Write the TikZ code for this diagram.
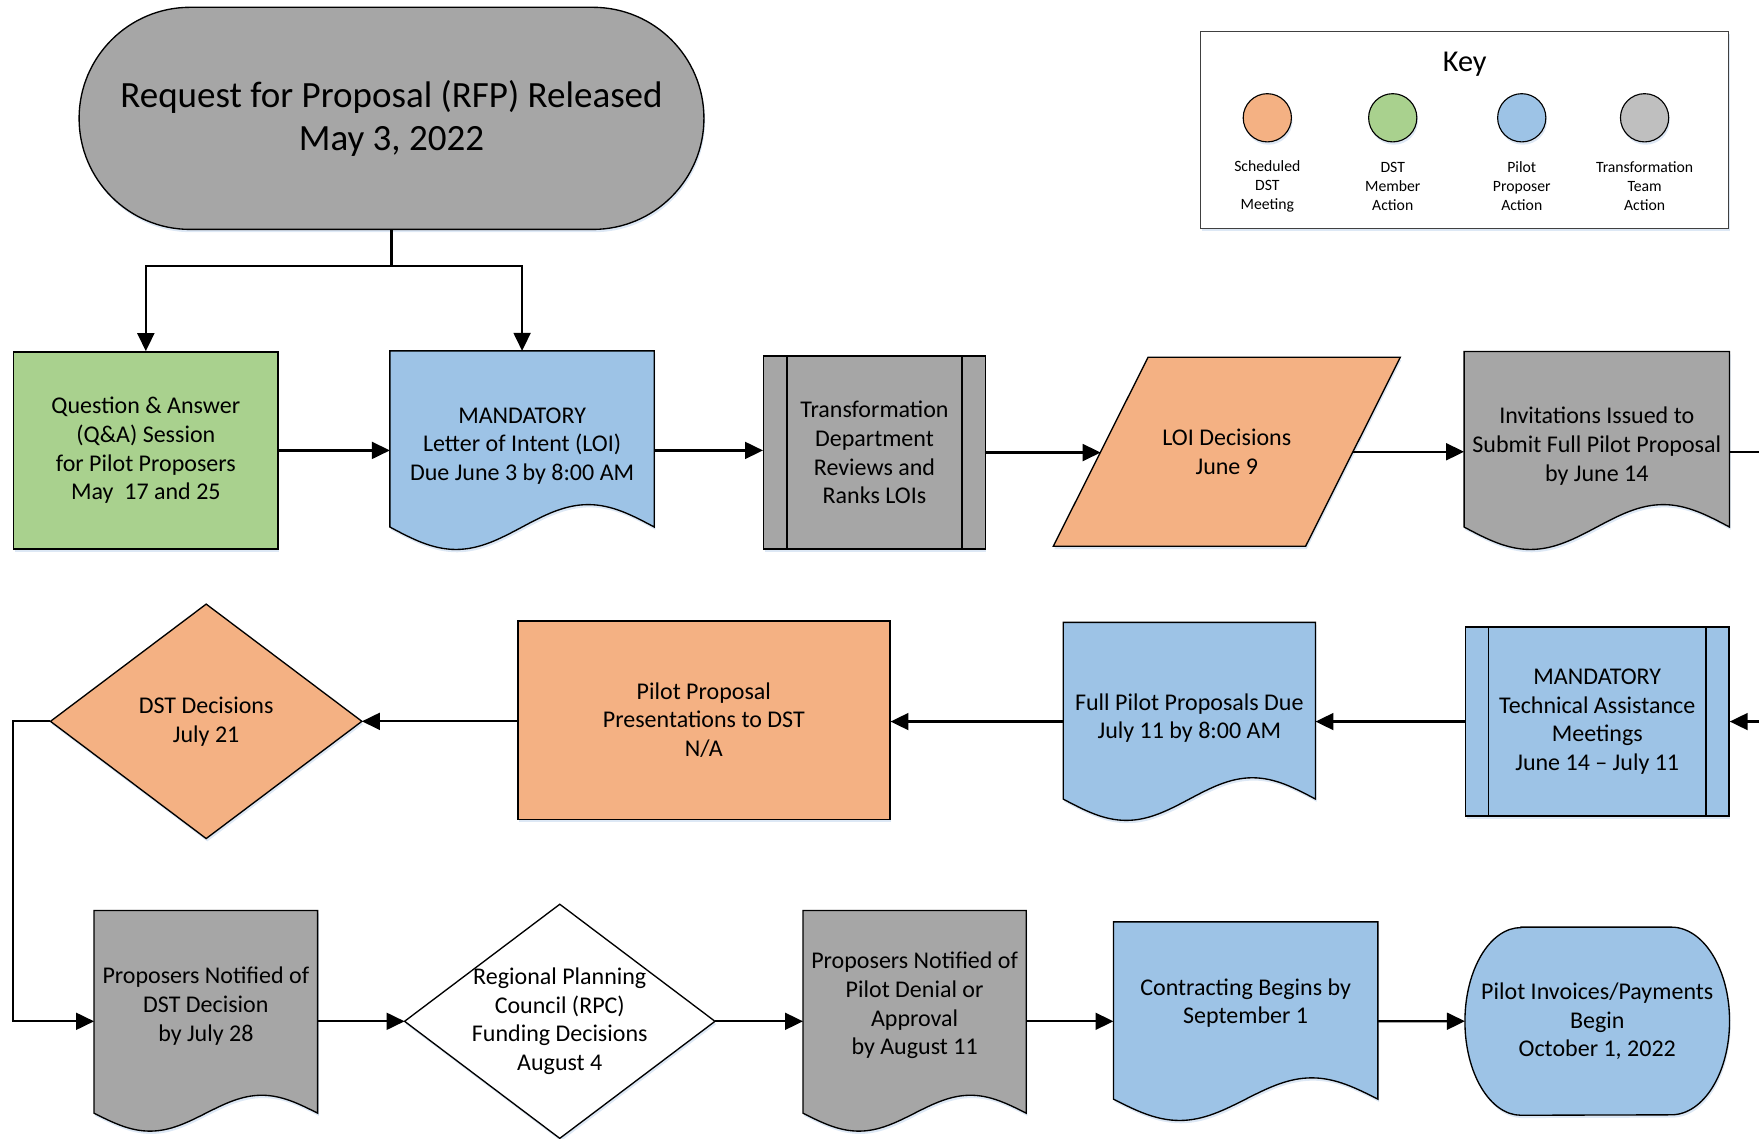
\documentclass[tikz,border=0pt]{standalone}
\usepackage{fontspec}
\setmainfont{Carlito}
\usetikzlibrary{positioning,calc,arrows.meta,backgrounds,shadows}

\definecolor{dstorange}{HTML}{F4B183}
\definecolor{dstgreen}{HTML}{A9D18E}
\definecolor{pilotblue}{HTML}{9DC3E6}
\definecolor{teamgray}{HTML}{A6A6A6}
\definecolor{keygray}{HTML}{BFBFBF}
\definecolor{glowblue}{HTML}{D5E2F2}

\begin{document}
\begin{tikzpicture}[
    x=1pt, y=-1pt,
    every node/.style={align=center, inner sep=0pt, font=\fontsize{21.4}{25.6}\selectfont},
    outline/.style={draw=black, line width=1.2pt},
    glow/.style={drop shadow={shadow xshift=1pt, shadow yshift=-2.5pt, fill=glowblue, opacity=.8}},
    blockbox/.style={rectangle, outline, glow},
    blank/.style={rectangle},
    flow/.style={draw, line width=2pt, -{Triangle[length=16pt, width=15pt]}},
    link/.style={draw, line width=2pt},
    keydot/.style={circle, outline, line width=1pt, glow, minimum size=43pt},
    keytext/.style={font=\fontsize{14}{16.9}\selectfont}
    ]
    \useasboundingbox (0,0) rectangle (1568,1015);

    % start and key
    \node[blockbox, fill=teamgray, rounded corners=99pt, minimum width=557pt, minimum height=198pt,
          font=\fontsize{33}{39}\selectfont] (rfp) at (349,105.5) {Request for Proposal (RFP) Released\\May 3, 2022};
    \node[rectangle, draw=black!75, line width=0.8pt, fill=white, glow, minimum width=470.5pt, minimum height=176pt] (key) at (1305.5,115.7) {};
    \node[font=\fontsize{27}{32}\selectfont] (keytitle) at (1305.7,57.5) {Key};
    \foreach \i/\x/\c/\t in {1/1129.7/dstorange/{Scheduled\\DST\\Meeting},
                             2/1241.5/dstgreen/{DST\\Member\\Action},
                             3/1356.5/pilotblue/{Pilot\\Proposer\\Action},
                             4/1466/keygray/{Transformation\\Team\\Action}} {
        \node[keydot, fill=\c] (dot\i) at (\x,105) {};
        \node[keytext] (lab\i) at (\x,166) {\t};
    }

    % row 1
    \node[blockbox, fill=dstgreen, minimum width=235.5pt, minimum height=175.7pt] (qa) at (130,401.5)
        {Question \& Answer\\(Q\&A) Session\\for Pilot Proposers\\May\ \ 17 and 25};
    \node[blank, minimum width=235.3pt, minimum height=169pt] (loi) at (465.4,397.5)
        {MANDATORY\\Letter of Intent (LOI)\\Due June 3 by 8:00 AM};
    \node[blockbox, fill=teamgray, minimum width=197.5pt, minimum height=172pt] (review) at (779.5,403.4)
        {Transformation\\Department\\Reviews and\\Ranks LOIs};
    \node[blank, minimum width=224.5pt, minimum height=168pt] (loidec) at (1093.6,402.7) {LOI Decisions\\June 9};
    \node[blank, minimum width=236.2pt, minimum height=168pt] (invite) at (1423.4,397.5)
        {Invitations Issued to\\Submit Full Pilot Proposal\\by June 14};

    % row 2
    \node[blockbox, fill=pilotblue, minimum width=235pt, minimum height=168.4pt] (assist) at (1423.8,643.2)
        {MANDATORY\\Technical Assistance\\Meetings\\June 14 – July 11};
    \node[blank, minimum width=224.5pt, minimum height=170pt] (fullprop) at (1060.2,640)
        {Full Pilot Proposals Due\\July 11 by 8:00 AM};
    \node[blockbox, fill=dstorange, minimum width=331.6pt, minimum height=176.7pt] (present) at (627.4,641.9)
        {Pilot Proposal\\Presentations to DST\\N/A};
    \node[blank, minimum width=277.2pt, minimum height=208.6pt] (dstdec) at (183.8,643) {DST Decisions\\July 21};

    % row 3
    \node[blank, minimum width=198.9pt, minimum height=170pt] (notedst) at (183.5,896.8)
        {Proposers Notified of\\DST Decision\\by July 28};
    \node[blank, minimum width=276.3pt, minimum height=208.3pt] (rpc) at (499,910.4)
        {Regional Planning\\Council (RPC)\\Funding Decisions\\August 4};
    \node[blank, minimum width=198.6pt, minimum height=169.2pt] (notepilot) at (815.3,896.4)
        {Proposers Notified of\\Pilot Denial or\\Approval\\by August 11};
    \node[blank, minimum width=235.3pt, minimum height=144.4pt] (contract) at (1110.4,894.2)
        {Contracting Begins by\\September 1};
    \node[blank, minimum width=235.5pt, minimum height=167.3pt] (invoice) at (1423.8,910.3)
        {Pilot Invoices/Payments\\Begin\\October 1, 2022};

    % outlines behind the texts
    \begin{scope}[on background layer]
        \foreach \n/\c/\h/\a in {loi/pilotblue/157/20, invite/teamgray/156.5/20, fullprop/pilotblue/157.5/19,
                                 notedst/teamgray/180.7/16, notepilot/teamgray/180.7/16, contract/pilotblue/158/19} {
            \draw[outline, fill=\c, glow] ($(\n.north west)+(0,\h)$) -- (\n.north west) -- (\n.north east)
                -- ($(\n.north east)+(0,\h)$)
                sin ($(\n.north east)!.25!(\n.north west)+(0,\h-\a)$) cos ($(\n.north east)!.5!(\n.north west)+(0,\h)$)
                sin ($(\n.north east)!.75!(\n.north west)+(0,\h+\a)$) cos ($(\n.north west)+(0,\h)$) -- cycle;
        }
        \foreach \n/\c in {dstdec/dstorange, rpc/white}
            \draw[outline, fill=\c, glow] (\n.west) -- (\n.north) -- (\n.east) -- (\n.south) -- cycle;
        \draw[outline, fill=dstorange, glow] ($(loidec.north west)+(42.2,0)$) -- ($(loidec.north east)+(42.2,0)$)
            -- ($(loidec.south east)+(-42.2,0)$) -- ($(loidec.south west)+(-42.2,0)$) -- cycle;
        \draw[outline, fill=pilotblue, glow] ($(invoice.north west)+(50,0)$) -- ($(invoice.north east)+(-52,0)$)
            arc[start angle=-90, end angle=90, x radius=52, y radius=83.65]
            -- ($(invoice.south west)+(50,0)$)
            arc[start angle=90, end angle=270, x radius=50, y radius=83.65] -- cycle;
    \end{scope}
    \foreach \n in {review,assist}
        \draw[outline] ($(\n.north west)+(21.3,0)$) -- ($(\n.south west)+(21.3,0)$)
                       ($(\n.north east)+(-21.3,0)$) -- ($(\n.south east)+(-21.3,0)$);

    % connectors
    \coordinate (outtop) at (1600,402.7);
    \coordinate (outmid) at (1600,643.2);
    \draw[link] (rfp.south) -- ++(0,31.8) coordinate (split);
    \draw[flow] (split) -| (qa.north);
    \draw[flow] (split) -| (loi.north);
    \draw[flow] (qa.east) -- (qa.east -| loi.west);
    \draw[flow] (loi.east |- qa.east) -- (review.west |- qa.east);
    \draw[flow] (review.east) -- (review.east -| loidec.west);
    \draw[flow] (loidec.east) -- (loidec.east -| invite.west);
    \draw[link] (invite.east |- outtop) -- (outtop);
    \draw[flow] (outmid) -- (assist.east);
    \draw[flow] (assist.west) -- (assist.west -| fullprop.east);
    \draw[flow] (fullprop.west |- assist.west) -- (present.east |- assist.west);
    \draw[flow] (present.west |- dstdec.east) -- (dstdec.east);
    \draw[flow] (dstdec.west) -- ++(-33.4,0) |- (notedst.west |- rpc.west);
    \draw[flow] (notedst.east |- rpc.west) -- (rpc.west);
    \draw[flow] (rpc.east) -- (notepilot.west |- rpc.east);
    \draw[flow] (notepilot.east |- rpc.east) -- (contract.west |- rpc.east);
    \draw[flow] (contract.east |- rpc.east) -- (invoice.west);
\end{tikzpicture}
\end{document}
